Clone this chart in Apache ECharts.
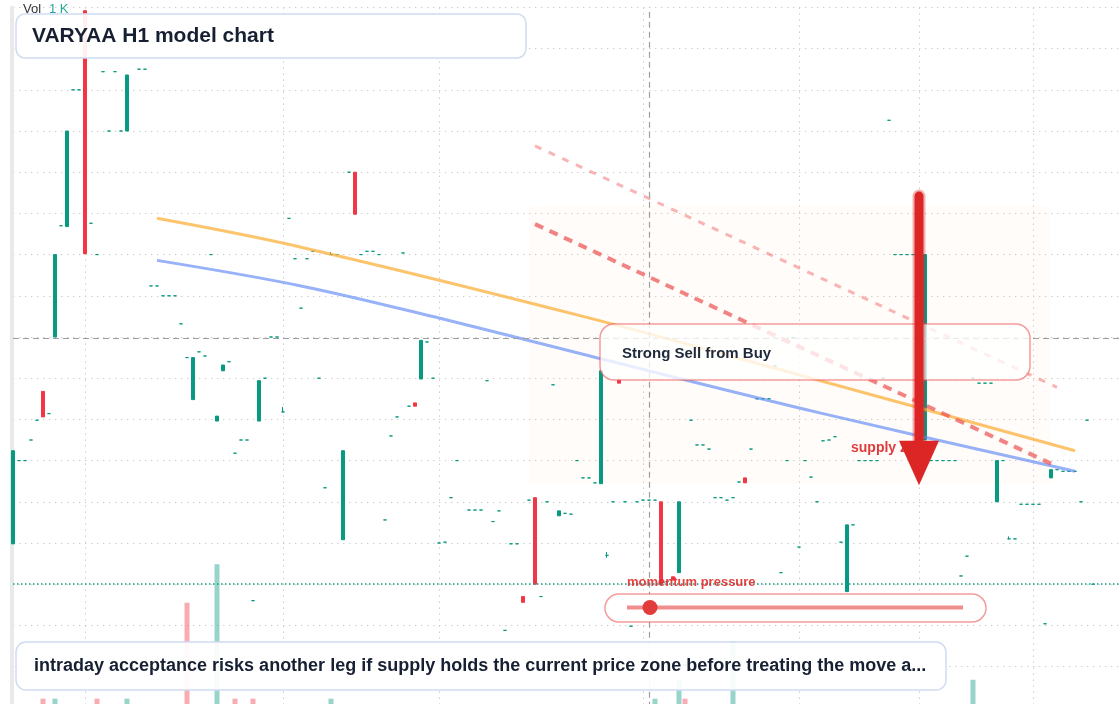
<!DOCTYPE html>
<html><head><meta charset="utf-8">
<script src="https://cdn.jsdelivr.net/npm/echarts@6/dist/echarts.min.js"></script>
<style>html,body{margin:0;padding:0;background:#fff}#c{width:1120px;height:704px}</style>
</head><body><div id="c"></div>
<script>
// ---------- data ----------
const N_SLOTS = 186;
const categories = [];
(function(){ const t0 = Date.UTC(2024, 2, 4, 0); for (let i = 0; i < N_SLOTS; i++) { const d = new Date(t0 + i * 3600e3); categories.push(d.toISOString().slice(5, 13).replace('T', ' ') + ':00'); } })();

const openP = [
101.99,103.00,103.00,103.25,103.49,103.84,103.57,104.50,105.85,105.84,
107.50,107.50,108.46,105.88,105.50,107.72,107.00,107.72,107.00,107.00,
108.10,107.75,107.75,105.12,105.12,105.00,105.00,105.00,104.66,104.25,
103.74,104.32,104.27,105.50,103.48,104.09,104.20,103.09,103.25,103.25,
101.30,103.48,104.00,104.50,104.50,103.59,105.94,105.45,104.85,105.45,
105.54,104.00,102.67,105.50,105.50,102.04,106.50,106.50,105.50,105.54,
105.54,105.50,102.28,103.30,103.53,105.52,103.66,103.70,103.99,104.44,
104.00,102.00,102.01,102.55,103.00,100.52,102.40,102.40,102.40,103.97,
102.26,102.39,100.94,101.99,101.99,101.35,102.52,102.55,101.35,102.50,
103.92,102.33,102.36,102.35,103.00,102.79,102.79,102.73,102.72,101.85,
102.50,103.98,102.50,100.99,102.50,102.52,102.52,102.52,102.50,101.53,
101.59,101.64,100.52,103.49,103.19,103.19,103.14,102.55,102.55,102.52,
102.55,102.74,102.79,103.14,103.75,103.75,103.75,104.15,101.64,103.00,
104.49,101.95,103.00,102.80,102.50,103.24,103.25,103.29,102.01,101.41,
102.22,103.00,103.00,103.00,103.00,104.00,107.13,105.50,105.50,105.50,
105.50,104.95,103.25,103.00,103.00,103.00,103.00,103.00,101.60,101.84,
104.00,103.94,103.94,103.94,102.50,103.00,102.05,102.05,102.47,102.47,
102.47,102.47,101.02,102.79,102.89,102.87,102.87,102.87,102.50,103.49,
101.50];
const closeP = [
103.12,103.00,103.00,103.25,103.49,103.53,103.57,105.50,105.85,107.00,
107.50,107.50,105.51,105.88,105.50,107.72,107.00,107.72,107.00,107.68,
108.10,107.75,107.75,105.12,105.12,105.00,105.00,105.00,104.66,104.25,
104.25,104.32,104.27,105.50,103.54,104.16,104.20,103.09,103.25,103.25,
101.30,103.97,104.00,104.50,104.50,103.59,105.94,105.45,104.85,105.45,
105.54,104.00,102.67,105.50,105.50,103.12,106.50,105.99,105.50,105.54,
105.54,105.50,102.28,103.30,103.53,105.52,103.66,103.66,104.46,104.44,
104.00,102.00,102.01,102.55,103.00,100.52,102.40,102.40,102.40,103.97,
102.26,102.39,100.94,101.99,101.99,101.28,102.52,101.50,101.35,102.50,
103.92,102.39,102.36,102.35,103.00,102.79,102.79,102.73,104.09,101.85,
102.50,103.94,102.50,100.99,102.50,102.52,102.52,102.52,101.50,101.53,
101.55,102.50,100.52,103.49,103.19,103.19,103.14,102.55,102.55,102.52,
102.55,102.74,102.73,103.14,103.75,103.75,103.75,104.15,101.64,103.00,
104.49,101.95,103.00,102.80,102.50,103.24,103.25,103.29,102.01,102.22,
102.22,103.00,103.00,103.00,103.00,104.00,107.13,105.50,105.50,105.50,
105.50,104.95,105.50,103.00,103.00,103.00,103.00,103.00,101.60,101.84,
104.00,103.94,103.94,103.94,103.00,103.00,102.05,102.05,102.47,102.47,
102.47,102.47,101.02,102.89,102.89,102.87,102.87,102.87,102.50,103.49,
101.50];
const wickHigh = [[45, 103.65], [53, 105.53], [99, 101.89], [166, 102.08]];
const wickLow = [[99, 101.82]];

const volumeAt  = [5, 7, 14, 19, 29, 34, 37, 40, 53, 107, 111, 112, 120, 160];
const volumeVal = [13, 13, 13, 13, 150, 205, 13, 13, 13, 13, 40, 13, 95, 40];
const volumeDown = [5, 14, 29, 37, 40, 112];

const blueIdx = [24, 48, 71, 95, 135, 177];
const blueVal = [105.43, 105.12, 104.73, 104.29, 103.57, 102.87];
const orangeIdx = [24, 48, 95, 131, 177];
const orangeVal = [105.94, 105.59, 104.75, 104.04, 103.12];
const sellIdx = [87, 174];
const sellVal = [105.87, 102.93];
const sellUpperVal = [106.82, 103.89];

const splitIdx = [12, 45, 71, 105, 131, 151, 170];
const crossIdx = 106, crossPrice = 104.49, lastPrice = 101.50;
const zone = { fromIdx: 86, toIdx: 173, top: 106.09, bottom: 102.72 };
const arrow = { idx: 151, from: 106.21, headBase: 103.24, tip: 102.70 };

// ---------- build ----------
const UP = '#089981', DOWN = '#f23645';
const hiMap = Object.fromEntries(wickHigh), loMap = Object.fromEntries(wickLow);
const candleData = openP.map((o, i) => {
  const c = closeP[i];
  const lo = loMap[i] != null ? loMap[i] : Math.min(o, c);
  const hi = hiMap[i] != null ? hiMap[i] : Math.max(o, c);
  const it = { value: [o, c, lo, hi] };
  if (o === c) it.itemStyle = { color: UP, color0: UP, borderColor: UP, borderColor0: UP };
  return it;
});
const volData = categories.map(() => '-');
volumeAt.forEach((idx, k) => {
  const down = volumeDown.includes(idx);
  volData[idx] = { value: volumeVal[k], itemStyle: { color: down ? 'rgba(242,54,69,0.42)' : 'rgba(8,153,129,0.42)' } };
});
function sparse(idx, vals) { const a = categories.map(() => null); idx.forEach((x, k) => a[x] = vals[k]); return a; }

const grid = { left: 13, top: 7.4, width: 1110, height: 700.4, containLabel: false, outerBoundsMode: 'none' };
const dotted = { type: [1.5, 4.5], color: '#cfcfcf', width: 1 };
const FONT = 'Liberation Sans, Arial, sans-serif';

const chart = echarts.init(document.getElementById('c'), null, { renderer: 'canvas' });
chart.setOption({
  animation: false,
  backgroundColor: '#ffffff',
  grid: grid,
  xAxis: {
    type: 'category', data: categories, boundaryGap: false,
    axisLine: { show: false }, axisTick: { show: false }, axisLabel: { show: false },
    splitLine: { show: true, interval: (i) => splitIdx.includes(i), lineStyle: dotted }
  },
  yAxis: [
    { type: 'value', min: 100, max: 108.5, interval: 0.5, offset: 1,
      axisLabel: { show: false }, axisTick: { show: false },
      axisLine: { show: true, lineStyle: { color: '#e9e9e9', width: 4 } },
      splitLine: { show: true, lineStyle: dotted } },
    { type: 'value', min: 0, max: 1000, show: false, splitLine: { show: false } }
  ],
  series: [
    { type: 'bar', yAxisIndex: 1, data: volData, barWidth: 5, z: 1, silent: true },
    { type: 'candlestick', data: candleData, barWidth: 4, z: 3,
      itemStyle: { color: UP, color0: DOWN, borderColor: UP, borderColor0: DOWN, borderWidth: 1 },
      markArea: { silent: true, itemStyle: { color: 'rgba(245,150,80,0.03)' },
        data: [[{ xAxis: categories[zone.fromIdx], yAxis: zone.top }, { xAxis: categories[zone.toIdx], yAxis: zone.bottom }]] },
      markLine: { silent: true, symbol: ['none', 'none'], label: { show: false }, animation: false,
        data: [
          { xAxis: categories[crossIdx], lineStyle: { type: [6, 4], color: '#9e9e9e', width: 1.2 } },
          { yAxis: crossPrice, lineStyle: { type: [6, 4], color: '#9e9e9e', width: 1.2 } },
          { yAxis: lastPrice, lineStyle: { type: [1.5, 2.5], color: '#12a086', width: 1.5 } }
        ] }
    },
    { type: 'line', data: sparse(orangeIdx, orangeVal), connectNulls: true, smooth: 0.35, showSymbol: false, z: 4, silent: true,
      lineStyle: { color: 'rgba(251,176,59,0.75)', width: 3 } },
    { type: 'line', data: sparse(blueIdx, blueVal), connectNulls: true, smooth: 0.35, showSymbol: false, z: 4, silent: true,
      lineStyle: { color: 'rgba(96,136,245,0.65)', width: 3 } },
    { type: 'line', data: sparse(sellIdx, sellUpperVal), connectNulls: true, showSymbol: false, z: 4, silent: true,
      lineStyle: { color: 'rgba(239,90,90,0.45)', width: 3, type: [7, 8] } },
    { type: 'line', data: sparse(sellIdx, sellVal), connectNulls: true, showSymbol: false, z: 4, silent: true,
      lineStyle: { color: 'rgba(236,80,80,0.7)', width: 4, type: [9, 7] } }
  ]
});

const px = (i, v) => chart.convertToPixel({ gridIndex: 0 }, [categories[i], v]);
const aTop = px(arrow.idx, arrow.from), aBase = px(arrow.idx, arrow.headBase), aTip = px(arrow.idx, arrow.tip);
const ax = aTop[0];

chart.setOption({
  graphic: [
    { type: 'text', left: 23, top: 3, z: 100, style: { text: 'Vol', fill: '#333', font: '13px ' + FONT } },
    { type: 'text', left: 49, top: 3, z: 100, style: { text: '1 K', fill: '#26a69a', font: '13px ' + FONT } },
    { type: 'rect', z: 100, shape: { x: 16, y: 14, width: 510, height: 44, r: 9 },
      style: { fill: 'rgba(255,255,255,0.92)', stroke: '#cfdcf2', lineWidth: 1.5 } },
    { type: 'text', z: 101, x: 32, y: 36.5, style: { text: 'VARYAA H1 model chart', fill: '#172033', font: 'bold 21px ' + FONT, textVerticalAlign: 'middle' } },

    { type: 'rect', z: 100, shape: { x: 600, y: 324, width: 430, height: 56, r: 14 },
      style: { fill: 'rgba(255,255,255,0.78)', stroke: 'rgba(236,90,90,0.6)', lineWidth: 1.5 } },
    { type: 'text', z: 101, x: 622, y: 353.5, style: { text: 'Strong Sell from Buy', fill: '#1e293b', font: 'bold 15px ' + FONT, textVerticalAlign: 'middle' } },

    { type: 'text', z: 102, x: 851, y: 448, style: { text: 'supply zone', fill: '#e03b3b', font: 'bold 14px ' + FONT, textVerticalAlign: 'middle' } },
    { type: 'line', z: 103, shape: { x1: ax, y1: aTop[1], x2: ax, y2: aBase[1] + 2 },
      style: { stroke: 'rgba(220,38,38,0.35)', lineWidth: 13, lineCap: 'round' } },
    { type: 'line', z: 104, shape: { x1: ax, y1: aTop[1], x2: ax, y2: aBase[1] + 2 },
      style: { stroke: '#dc2626', lineWidth: 9, lineCap: 'round' } },
    { type: 'polygon', z: 104, shape: { points: [[ax - 20, aBase[1]], [ax + 20, aBase[1]], [ax, aTip[1]]] },
      style: { fill: '#dc2626' } },

    { type: 'text', z: 101, x: 627, y: 582.5, style: { text: 'momentum pressure', fill: 'rgba(225,45,45,0.9)', font: 'bold 13px ' + FONT, textVerticalAlign: 'middle' } },
    { type: 'rect', z: 100, shape: { x: 605, y: 594, width: 381, height: 28, r: 14 },
      style: { fill: 'rgba(255,255,255,0.9)', stroke: 'rgba(236,90,90,0.6)', lineWidth: 1.5 } },
    { type: 'line', z: 101, shape: { x1: 627, y1: 607.5, x2: 963, y2: 607.5 },
      style: { stroke: 'rgba(232,80,80,0.65)', lineWidth: 4 } },
    { type: 'circle', z: 102, shape: { cx: 650, cy: 607.5, r: 7.5 }, style: { fill: '#e23b3b' } },

    { type: 'rect', z: 100, shape: { x: 16, y: 642, width: 930, height: 48, r: 10 },
      style: { fill: 'rgba(255,255,255,0.92)', stroke: '#cfdcf2', lineWidth: 1.5 } },
    { type: 'text', z: 101, x: 34, y: 666.5, style: { text: 'intraday acceptance risks another leg if supply holds the current price zone before treating the move a...', fill: '#172033', font: 'bold 18px ' + FONT, textVerticalAlign: 'middle' } }
  ]
});
</script>
</body></html>
